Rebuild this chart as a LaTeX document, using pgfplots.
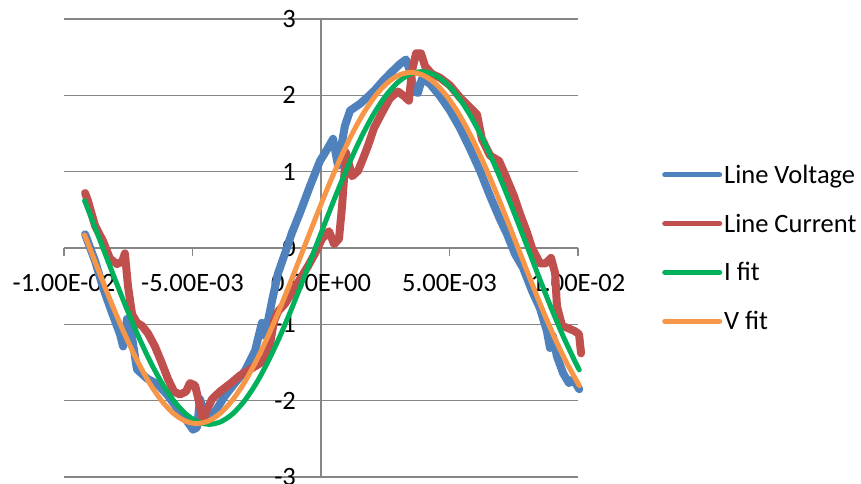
\documentclass[border=0pt]{standalone}
\usepackage{pgfplots}
\pgfplotsset{compat=1.18}
\usepackage{fontspec}
\setmainfont{Carlito}

\definecolor{gridc}{RGB}{134,134,134}
\definecolor{voltc}{RGB}{79,129,189}
\definecolor{currc}{RGB}{192,80,77}
\definecolor{ifitc}{RGB}{0,176,90}
\definecolor{vfitc}{RGB}{247,150,70}

\newcommand{\lblfont}{\fontsize{26.5bp}{31bp}\selectfont}

\begin{document}
\begin{tikzpicture}
\useasboundingbox (0bp,0bp) rectangle (861bp,484bp);
\begin{axis}[
  at={(64bp,7bp)}, anchor=south west,
  scale only axis, width=514bp, height=458bp,
  xmin=-0.01, xmax=0.01, ymin=-3, ymax=3,
  clip=false,
  axis lines=middle,
  axis line style={-, draw=gridc, line width=1.3bp},
  hide obscured x ticks=false, hide obscured y ticks=false,
  scaled x ticks=false,
  xtick={-0.01,-0.005,0,0.005,0.01},
  xticklabels={-1.00E-02,-5.00E-03,0.00E+00,5.00E-03,1.00E-02},
  ytick={-3,-2,-1,0,1,2,3},
  yticklabels={-3,-2,-1,0,1,2,3},
  ymajorgrids,
  grid style={draw=gridc, line width=1.3bp},
  tick style={draw=gridc, line width=1.3bp},
  tick align=outside,
  major tick length=8bp,
  every tick label/.append style={font=\lblfont, text=black},
  xticklabel style={anchor=north, inner sep=0pt, yshift=-18bp},
  yticklabel style={anchor=east, inner sep=0pt, xshift=-17bp},
  legend style={draw=none, fill=none, font=\lblfont,
    at={(axis description cs:1,0.5)}, xshift=84bp, anchor=west,
    inner sep=0pt, row sep=25bp},
  legend cell align=left,
  legend image code/.code={\draw[#1, line width=5bp, line cap=round] (0bp,0bp) -- (55bp,0bp);},
  every axis plot/.append style={line join=round, line cap=round},
]

% measured line voltage
\addplot[voltc, line width=8bp] coordinates {
(-9.18e-3,0.18) (-8.79e-3,-0.17) (-8.48e-3,-0.52) (-8.13e-3,-0.85)
(-7.82e-3,-1.13) (-7.70e-3,-1.29) (-7.55e-3,-0.93) (-7.39e-3,-1.09)
(-7.16e-3,-1.59) (-6.77e-3,-1.71) (-6.38e-3,-1.78) (-5.99e-3,-1.92)
(-5.60e-3,-2.10) (-5.21e-3,-2.27) (-4.98e-3,-2.38) (-4.82e-3,-2.35)
(-4.71e-3,-1.98) (-4.55e-3,-2.14) (-4.40e-3,-2.24) (-4.12e-3,-2.14)
(-3.74e-3,-1.94) (-3.35e-3,-1.77) (-2.96e-3,-1.61) (-2.57e-3,-1.35)
(-2.30e-3,-0.98) (-2.18e-3,-1.15) (-1.91e-3,-0.70) (-1.67e-3,-0.33)
(-1.40e-3,-0.07) (-1.13e-3,0.20) (-0.82e-3,0.46) (-0.43e-3,0.81)
(-0.04e-3,1.14) (0.27e-3,1.31) (0.47e-3,1.43) (0.66e-3,1.08)
(0.93e-3,1.60) (1.13e-3,1.80) (1.52e-3,1.89) (1.79e-3,1.97)
(2.10e-3,2.07) (2.41e-3,2.19) (2.76e-3,2.31) (3.07e-3,2.41)
(3.31e-3,2.47) (3.46e-3,2.32) (3.62e-3,2.06) (3.77e-3,2.03)
(3.93e-3,2.22) (4.24e-3,2.15) (4.63e-3,1.99) (5.02e-3,1.80)
(5.41e-3,1.57) (5.80e-3,1.30) (6.19e-3,1.01) (6.58e-3,0.68)
(6.96e-3,0.38) (7.24e-3,0.18) (7.55e-3,-0.08) (7.86e-3,-0.26)
(8.21e-3,-0.56) (8.52e-3,-0.79) (8.79e-3,-1.09) (8.91e-3,-1.31)
(9.02e-3,-1.15) (9.18e-3,-1.42) (9.42e-3,-1.64) (9.65e-3,-1.77)
(9.81e-3,-1.72) (10.05e-3,-1.85)
};
\addlegendentry{Line Voltage}

% measured line current
\addplot[currc, line width=8bp] coordinates {
(-9.18e-3,0.72) (-9.07e-3,0.62) (-8.79e-3,0.29) (-8.48e-3,0.09)
(-8.21e-3,-0.14) (-7.94e-3,-0.21) (-7.74e-3,-0.18) (-7.63e-3,-0.07)
(-7.51e-3,-0.50) (-7.35e-3,-0.87) (-7.16e-3,-0.98) (-6.96e-3,-1.02)
(-6.73e-3,-1.12) (-6.46e-3,-1.29) (-6.19e-3,-1.51) (-5.95e-3,-1.72)
(-5.72e-3,-1.88) (-5.49e-3,-1.92) (-5.25e-3,-1.88) (-5.10e-3,-1.77)
(-4.90e-3,-1.80) (-4.75e-3,-2.01) (-4.59e-3,-2.27) (-4.47e-3,-2.14)
(-4.24e-3,-1.98) (-3.93e-3,-1.88) (-3.54e-3,-1.78) (-3.15e-3,-1.67)
(-2.76e-3,-1.59) (-2.37e-3,-1.51) (-2.14e-3,-1.42) (-1.98e-3,-1.25)
(-1.83e-3,-0.96) (-1.67e-3,-0.83) (-1.40e-3,-0.73) (-1.09e-3,-0.56)
(-0.82e-3,-0.41) (-0.51e-3,-0.24) (-0.23e-3,-0.07) (0.04e-3,0.12)
(0.31e-3,0.22) (0.51e-3,0.05) (0.70e-3,0.12) (0.82e-3,0.55)
(0.89e-3,0.88) (0.97e-3,1.25) (1.21e-3,0.94) (1.44e-3,1.01)
(1.60e-3,1.14) (1.83e-3,1.34) (2.06e-3,1.57) (2.37e-3,1.77)
(2.68e-3,1.96) (2.99e-3,2.05) (3.23e-3,1.99) (3.42e-3,1.93)
(3.54e-3,2.32) (3.70e-3,2.55) (3.89e-3,2.55) (4.05e-3,2.38)
(4.32e-3,2.28) (4.63e-3,2.23) (5.02e-3,2.13) (5.41e-3,1.97)
(5.80e-3,1.84) (6.07e-3,1.75) (6.26e-3,1.43) (6.58e-3,1.21)
(6.93e-3,1.14) (7.20e-3,0.93) (7.51e-3,0.68) (7.74e-3,0.45)
(8.02e-3,0.20) (8.21e-3,0.00) (8.52e-3,-0.20) (8.75e-3,-0.20)
(8.95e-3,-0.13) (9.11e-3,-0.33) (9.18e-3,-0.76) (9.38e-3,-1.02)
(9.61e-3,-1.05) (9.88e-3,-1.09) (10.04e-3,-1.13) (10.12e-3,-1.38)
};
\addlegendentry{Line Current}

% sine fit to the current
\addplot[ifitc, line width=5bp, smooth] coordinates {
(-9.200e-3,0.621) (-8.944e-3,0.401) (-8.485e-3,0.000) (-8.025e-3,-0.401)
(-7.566e-3,-0.790) (-7.107e-3,-1.155) (-6.648e-3,-1.485) (-6.189e-3,-1.770)
(-5.730e-3,-2.001) (-5.271e-3,-2.171) (-4.811e-3,-2.275) (-4.352e-3,-2.310)
(-3.893e-3,-2.275) (-3.434e-3,-2.171) (-2.975e-3,-2.001) (-2.516e-3,-1.770)
(-2.057e-3,-1.485) (-1.597e-3,-1.155) (-1.138e-3,-0.790) (-0.679e-3,-0.401)
(-0.220e-3,0.000) (0.239e-3,0.401) (0.698e-3,0.790) (1.157e-3,1.155)
(1.617e-3,1.485) (2.076e-3,1.770) (2.535e-3,2.001) (2.994e-3,2.171)
(3.453e-3,2.275) (3.912e-3,2.310) (4.371e-3,2.275) (4.831e-3,2.171)
(5.290e-3,2.001) (5.749e-3,1.770) (6.208e-3,1.485) (6.667e-3,1.155)
(7.126e-3,0.790) (7.585e-3,0.401) (8.045e-3,0.000) (8.504e-3,-0.401)
(8.963e-3,-0.790) (9.422e-3,-1.155) (9.881e-3,-1.485) (10.050e-3,-1.597)
};
\addlegendentry{I fit}

% sine fit to the voltage
\addplot[vfitc, line width=5bp, smooth] coordinates {
(-9.200e-3,0.172) (-9.000e-3,0.000) (-8.537e-3,-0.399) (-8.074e-3,-0.787)
(-7.611e-3,-1.150) (-7.148e-3,-1.478) (-6.686e-3,-1.762) (-6.223e-3,-1.992)
(-5.760e-3,-2.161) (-5.297e-3,-2.265) (-4.834e-3,-2.300) (-4.371e-3,-2.265)
(-3.908e-3,-2.161) (-3.445e-3,-1.992) (-2.982e-3,-1.762) (-2.519e-3,-1.478)
(-2.056e-3,-1.150) (-1.593e-3,-0.787) (-1.130e-3,-0.399) (-0.667e-3,0.000)
(-0.204e-3,0.399) (0.259e-3,0.787) (0.722e-3,1.150) (1.185e-3,1.478)
(1.648e-3,1.762) (2.111e-3,1.992) (2.574e-3,2.161) (3.037e-3,2.265)
(3.500e-3,2.300) (3.963e-3,2.265) (4.426e-3,2.161) (4.889e-3,1.992)
(5.352e-3,1.762) (5.815e-3,1.478) (6.278e-3,1.150) (6.741e-3,0.787)
(7.204e-3,0.399) (7.667e-3,0.000) (8.130e-3,-0.399) (8.593e-3,-0.787)
(9.056e-3,-1.150) (9.519e-3,-1.478) (9.981e-3,-1.762) (10.055e-3,-1.803)
};
\addlegendentry{V fit}

\end{axis}
\end{tikzpicture}
\end{document}
